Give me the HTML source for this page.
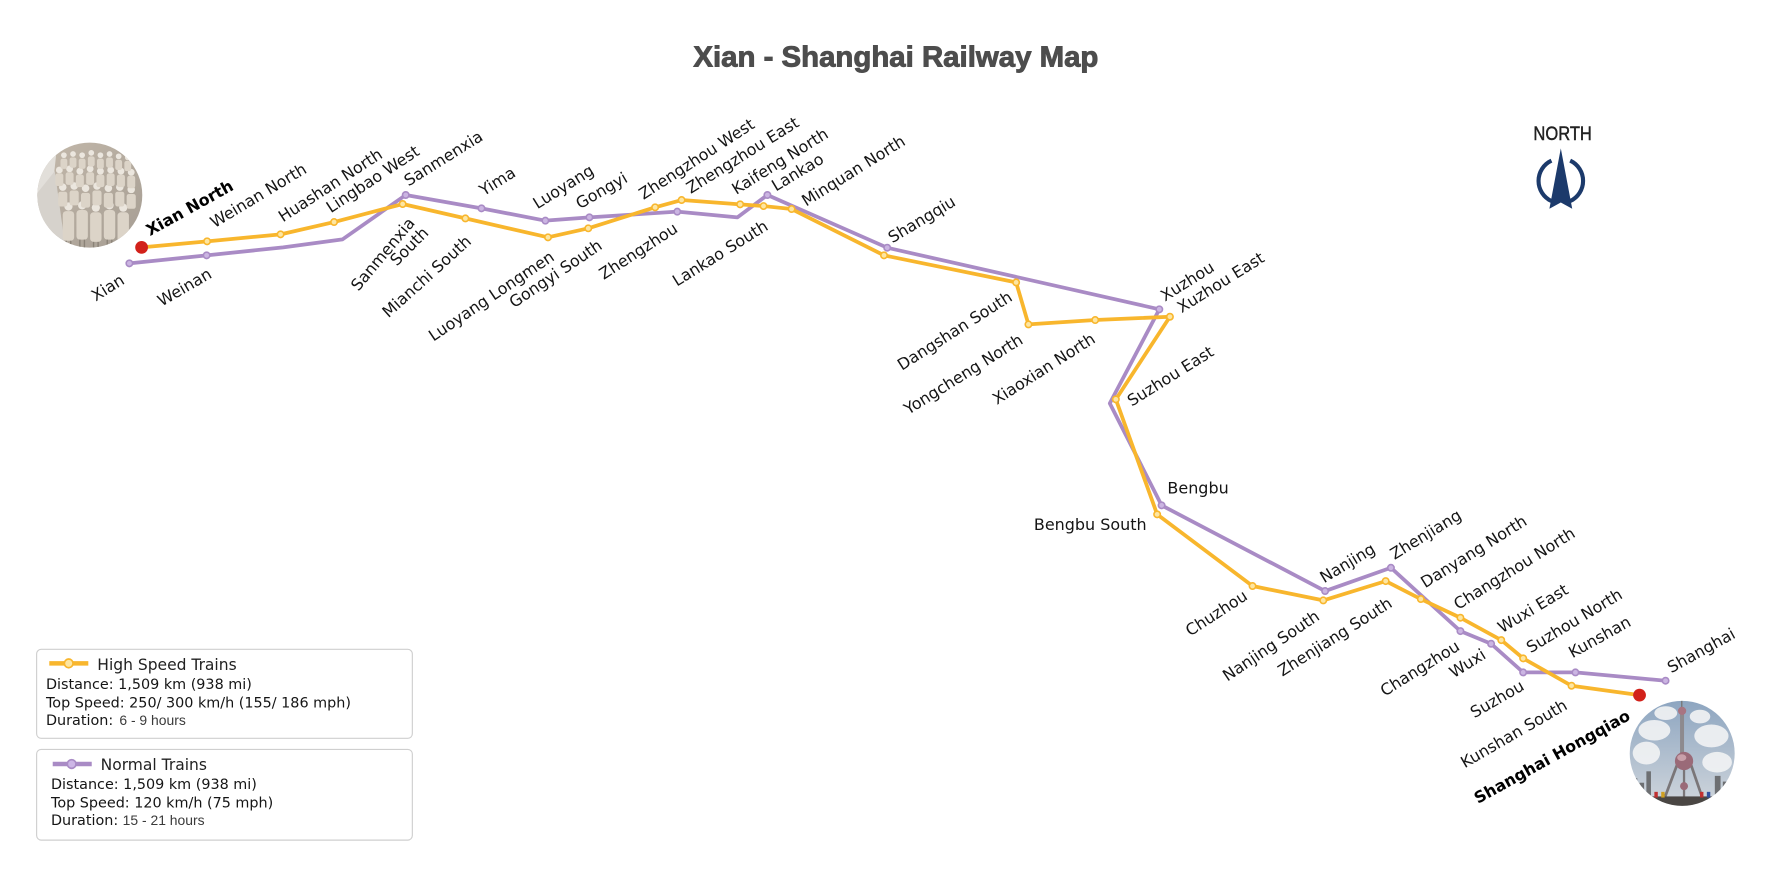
<!DOCTYPE html>
<html><head><meta charset="utf-8"><style>
html,body{margin:0;padding:0;background:#fff;}
svg{display:block;}
.l{font-family:"DejaVu Sans","Liberation Sans",sans-serif;font-size:14px;fill:#151515;}
.b{font-family:"DejaVu Sans","Liberation Sans",sans-serif;font-size:14px;font-weight:bold;fill:#000;}
.lg{font-family:"DejaVu Sans","Liberation Sans",sans-serif;font-size:12.6px;fill:#151515;}
.lt{font-family:"DejaVu Sans","Liberation Sans",sans-serif;font-size:13.6px;fill:#222;}
.ar{font-family:"Liberation Sans",Arial,sans-serif;font-size:12.2px;fill:#3a3a3a;}
</style></head><body>
<svg width="1789" height="878" viewBox="0 0 1568 769.5" preserveAspectRatio="none" xmlns="http://www.w3.org/2000/svg">
<defs>
<clipPath id="cx"><circle cx="78.7" cy="171" r="46"/></clipPath>
<clipPath id="cs"><circle cx="1474.4" cy="660.3" r="46"/></clipPath>
<linearGradient id="sky" x1="0" y1="0" x2="0" y2="1"><stop offset="0" stop-color="#8aa3bf"/><stop offset="1" stop-color="#d3d8dd"/></linearGradient>
<linearGradient id="ter" x1="0" y1="0" x2="1" y2="1"><stop offset="0" stop-color="#c4b9ab"/><stop offset="1" stop-color="#a49c92"/></linearGradient>
</defs>
<rect width="1568" height="769.5" fill="#fff"/>

<!-- title -->
<text x="607.7" y="58.4" font-family="Liberation Sans, Arial, sans-serif" font-weight="bold" font-size="25.5" fill="#4d4d4d" stroke="#4d4d4d" stroke-width="0.8" textLength="355" lengthAdjust="spacingAndGlyphs">Xian - Shanghai Railway Map</text>

<!-- north -->
<text x="1344" y="122.7" font-family="Liberation Sans, Arial, sans-serif" font-size="17" fill="#222" stroke="#222" stroke-width="0.4" textLength="51.2" lengthAdjust="spacingAndGlyphs">NORTH</text>
<path d="M1376.2,140.8 A19.5,19.5 0 0 1 1376.2,176.2" fill="none" stroke="#1c3a6b" stroke-width="3.6"/>
<path d="M1359.8,176.2 A19.5,19.5 0 0 1 1359.8,140.8" fill="none" stroke="#1c3a6b" stroke-width="3.6"/>
<polygon points="1368,130 1378,183 1368,177.5 1358,183" fill="#1c3a6b"/>

<!-- Xian image -->
<g clip-path="url(#cx)">
<rect x="30" y="122" width="100" height="100" fill="url(#ter)"/>
<polygon points="30,150 50,128 40,222 30,222" fill="#e2dfda"/>
<polygon points="32,170 48,150 58,222 32,222" fill="#d6d2cc"/>
<g fill="#ebe6de">
<circle cx="56" cy="136" r="2.5"/><circle cx="64" cy="135" r="2.5"/><circle cx="72" cy="136" r="2.5"/><circle cx="80" cy="134" r="2.5"/><circle cx="88" cy="136" r="2.5"/><circle cx="96" cy="135" r="2.5"/><circle cx="104" cy="137" r="2.5"/><circle cx="112" cy="138" r="2.5"/>
<circle cx="52" cy="149" r="3"/><circle cx="61" cy="148" r="3"/><circle cx="70" cy="150" r="3"/><circle cx="79" cy="148" r="3"/><circle cx="88" cy="150" r="3"/><circle cx="97" cy="149" r="3"/><circle cx="106" cy="150" r="3"/><circle cx="115" cy="151" r="3"/>
<circle cx="55" cy="164" r="3.3"/><circle cx="65" cy="163" r="3.3"/><circle cx="75" cy="165" r="3.3"/><circle cx="85" cy="163" r="3.3"/><circle cx="95" cy="165" r="3.3"/><circle cx="105" cy="164" r="3.3"/><circle cx="115" cy="166" r="3.3"/>
<circle cx="60" cy="181" r="3.6"/><circle cx="72" cy="180" r="3.6"/><circle cx="84" cy="182" r="3.6"/><circle cx="96" cy="180" r="3.6"/><circle cx="108" cy="182" r="3.6"/>
</g>
<g fill="#dcd4c8">
<rect x="53" y="139" width="6" height="9" rx="2"/><rect x="61" y="138" width="6" height="9" rx="2"/><rect x="69" y="139" width="6" height="9" rx="2"/><rect x="77" y="137" width="6" height="9" rx="2"/><rect x="85" y="139" width="6" height="9" rx="2"/><rect x="93" y="138" width="6" height="9" rx="2"/><rect x="101" y="140" width="6" height="9" rx="2"/><rect x="109" y="141" width="6" height="9" rx="2"/>
<rect x="48.5" y="152" width="7" height="11" rx="2"/><rect x="57.5" y="151" width="7" height="11" rx="2"/><rect x="66.5" y="153" width="7" height="11" rx="2"/><rect x="75.5" y="151" width="7" height="11" rx="2"/><rect x="84.5" y="153" width="7" height="11" rx="2"/><rect x="93.5" y="152" width="7" height="11" rx="2"/><rect x="102.5" y="153" width="7" height="11" rx="2"/><rect x="111.5" y="154" width="7" height="11" rx="2"/>
<rect x="51" y="168" width="8" height="13" rx="2"/><rect x="61" y="167" width="8" height="13" rx="2"/><rect x="71" y="169" width="8" height="13" rx="2"/><rect x="81" y="167" width="8" height="13" rx="2"/><rect x="91" y="169" width="8" height="13" rx="2"/><rect x="101" y="168" width="8" height="13" rx="2"/><rect x="111" y="170" width="8" height="13" rx="2"/>
<rect x="55" y="185" width="10" height="26" rx="3"/><rect x="67" y="184" width="10" height="26" rx="3"/><rect x="79" y="186" width="10" height="26" rx="3"/><rect x="91" y="184" width="10" height="26" rx="3"/><rect x="103" y="186" width="10" height="26" rx="3"/>
</g>
<g stroke="#8a8277" stroke-width="1.2">
<line x1="58" y1="211" x2="58" y2="220"/><line x1="62" y1="211" x2="62" y2="220"/><line x1="70" y1="210" x2="70" y2="220"/><line x1="74" y1="210" x2="74" y2="220"/><line x1="82" y1="212" x2="82" y2="221"/><line x1="86" y1="212" x2="86" y2="221"/><line x1="94" y1="210" x2="94" y2="220"/><line x1="98" y1="210" x2="98" y2="220"/>
</g>
</g>

<!-- Shanghai image -->
<g clip-path="url(#cs)">
<rect x="1425" y="610" width="100" height="100" fill="url(#sky)"/>
<g fill="#f2f3f4" opacity="0.9">
<ellipse cx="1450" cy="640" rx="14" ry="9"/><ellipse cx="1443" cy="660" rx="12" ry="10"/><ellipse cx="1500" cy="645" rx="15" ry="10"/><ellipse cx="1505" cy="668" rx="13" ry="9"/><ellipse cx="1460" cy="625" rx="10" ry="6"/><ellipse cx="1490" cy="628" rx="9" ry="6"/>
</g>
<g fill="#6d6f72">
<rect x="1430" y="682" width="5" height="20"/><rect x="1437" y="686" width="4" height="16"/><rect x="1443" y="676" width="4" height="26"/><rect x="1503" y="680" width="5" height="22"/><rect x="1510" y="685" width="6" height="17"/>
</g>
<line x1="1474" y1="610" x2="1474" y2="620" stroke="#777" stroke-width="1.2"/>
<rect x="1472.5" y="620" width="3.5" height="42" fill="#8d8a8e"/>
<circle cx="1474.3" cy="623" r="3.6" fill="#a87582"/>
<line x1="1470" y1="670" x2="1458" y2="702" stroke="#7a7678" stroke-width="2.4"/>
<line x1="1482" y1="670" x2="1493" y2="702" stroke="#7a7678" stroke-width="2.4"/>
<line x1="1476" y1="670" x2="1476" y2="702" stroke="#7a7678" stroke-width="2"/>
<circle cx="1476" cy="667" r="8" fill="#9a6a78"/>
<ellipse cx="1474" cy="664" rx="4" ry="3" fill="#c9a0aa"/>
<circle cx="1476" cy="689" r="3.5" fill="#9a6a78"/>
<rect x="1425" y="698" width="100" height="12" fill="#4a4643"/>
<rect x="1450" y="694" width="3" height="5" fill="#c03030"/><rect x="1456" y="694" width="3" height="5" fill="#d0a020"/><rect x="1496" y="694" width="3" height="5" fill="#3050a0"/><rect x="1490" y="694" width="3" height="5" fill="#c03030"/>
</g>

<!-- purple line -->
<polyline fill="none" stroke="#a98bc5" stroke-width="3.3" stroke-linejoin="round" points="113.4,230.8 181.1,223.8 248.2,216.8 300.2,209.8 355.6,170.9 422,182.6 478,193.4 516.6,190.5 593.6,185.5 646.3,190.5 672.6,170.9 777.6,217.1 1016.1,271.1 972.7,353.5 1018.1,442.9 1161.4,518 1219.1,497.6 1280,553.1 1306.9,564.2 1335,589.3 1380.8,589.3 1459.8,596.6"/>
<g fill="#cbb5e2" stroke="#a98bc5" stroke-width="1.4">
<circle cx="113.4" cy="230.8" r="2.8"/><circle cx="181.1" cy="223.8" r="2.8"/><circle cx="355.6" cy="170.9" r="2.8"/><circle cx="422" cy="182.6" r="2.8"/><circle cx="478" cy="193.4" r="2.8"/><circle cx="516.6" cy="190.5" r="2.8"/><circle cx="593.6" cy="185.5" r="2.8"/><circle cx="672.6" cy="170.9" r="2.8"/><circle cx="777.6" cy="217.1" r="2.8"/><circle cx="1016.1" cy="271.1" r="2.8"/><circle cx="1018.1" cy="442.9" r="2.8"/><circle cx="1161.4" cy="518" r="2.8"/><circle cx="1219.1" cy="497.6" r="2.8"/><circle cx="1280" cy="553.1" r="2.8"/><circle cx="1306.9" cy="564.2" r="2.8"/><circle cx="1335" cy="589.3" r="2.8"/><circle cx="1380.8" cy="589.3" r="2.8"/><circle cx="1459.8" cy="596.6" r="2.8"/>
</g>

<!-- yellow line -->
<polyline fill="none" stroke="#f8b62d" stroke-width="3.3" stroke-linejoin="round" points="124.1,216.8 181.5,211.5 245.9,205.4 292.8,194.6 352.9,178.8 407.9,191.4 480.3,208 515.6,200.1 574.2,181.7 597.4,175.3 648.7,179.1 669.2,180.6 693.8,183.2 774.8,223.8 890.6,247.5 901.4,284.3 959.9,280.5 1025.4,277.6 978,350 1014.2,450.8 1097.8,513.6 1159.8,526.2 1214.5,509.3 1245.3,525 1280,541.4 1315.8,561 1335,577 1377.4,601 1437,609.2"/>
<g fill="#fde6a2" stroke="#f8b62d" stroke-width="1.4">
<circle cx="181.5" cy="211.5" r="2.8"/><circle cx="245.9" cy="205.4" r="2.8"/><circle cx="292.8" cy="194.6" r="2.8"/><circle cx="352.9" cy="178.8" r="2.8"/><circle cx="407.9" cy="191.4" r="2.8"/><circle cx="480.3" cy="208" r="2.8"/><circle cx="515.6" cy="200.1" r="2.8"/><circle cx="574.2" cy="181.7" r="2.8"/><circle cx="597.4" cy="175.3" r="2.8"/><circle cx="648.7" cy="179.1" r="2.8"/><circle cx="669.2" cy="180.6" r="2.8"/><circle cx="693.8" cy="183.2" r="2.8"/><circle cx="774.8" cy="223.8" r="2.8"/><circle cx="890.6" cy="247.5" r="2.8"/><circle cx="901.4" cy="284.3" r="2.8"/><circle cx="959.9" cy="280.5" r="2.8"/><circle cx="1025.4" cy="277.6" r="2.8"/><circle cx="978" cy="350" r="2.8"/><circle cx="1014.2" cy="450.8" r="2.8"/><circle cx="1097.8" cy="513.6" r="2.8"/><circle cx="1159.8" cy="526.2" r="2.8"/><circle cx="1214.5" cy="509.3" r="2.8"/><circle cx="1245.3" cy="525" r="2.8"/><circle cx="1280" cy="541.4" r="2.8"/><circle cx="1315.8" cy="561" r="2.8"/><circle cx="1335" cy="577" r="2.8"/><circle cx="1377.4" cy="601" r="2.8"/>
</g>
<circle cx="124.1" cy="216.8" r="5.6" fill="#d2211a"/>
<circle cx="1437" cy="609.2" r="5.6" fill="#d2211a"/>

<!-- labels above (start anchored) -->
<text class="b" x="131.5" y="207" transform="rotate(-29 131.5 207)">Xian North</text>
<text class="l" x="188" y="200" transform="rotate(-31 188 200)">Weinan North</text>
<text class="l" x="248" y="195" transform="rotate(-33 248 195)">Huashan North</text>
<text class="l" x="290" y="187" transform="rotate(-33.5 290 187)">Lingbao West</text>
<text class="l" x="358" y="163.6" transform="rotate(-32 358 163.6)">Sanmenxia</text>
<text class="l" x="424" y="172" transform="rotate(-32 424 172)">Yima</text>
<text class="l" x="471" y="183.5" transform="rotate(-32 471 183.5)">Luoyang</text>
<text class="l" x="508.3" y="183.5" transform="rotate(-30 508.3 183.5)">Gongyi</text>
<text class="l" x="564" y="175.3" transform="rotate(-33 564 175.3)">Zhengzhou West</text>
<text class="l" x="605.4" y="170" transform="rotate(-32 605.4 170)">Zhengzhou East</text>
<text class="l" x="645.3" y="170.9" transform="rotate(-32 645.3 170.9)">Kaifeng North</text>
<text class="l" x="680" y="168" transform="rotate(-31 680 168)">Lankao</text>
<text class="l" x="706.6" y="181.2" transform="rotate(-32 706.6 181.2)">Minquan North</text>
<text class="l" x="782.2" y="213.3" transform="rotate(-31 782.2 213.3)">Shangqiu</text>
<text class="l" x="1021.1" y="264.4" transform="rotate(-32 1021.1 264.4)">Xuzhou</text>
<text class="l" x="1035.7" y="274.6" transform="rotate(-32 1035.7 274.6)">Xuzhou East</text>
<text class="l" x="991.9" y="356.5" transform="rotate(-32 991.9 356.5)">Suzhou East</text>
<text class="l" x="1160.6" y="511.3" transform="rotate(-31 1160.6 511.3)">Nanjing</text>
<text class="l" x="1222.2" y="490.8" transform="rotate(-31.5 1222.2 490.8)">Zhenjiang</text>
<text class="l" x="1249.1" y="515.7" transform="rotate(-32 1249.1 515.7)">Danyang North</text>
<text class="l" x="1278" y="534.7" transform="rotate(-32 1278 534.7)">Changzhou North</text>
<text class="l" x="1316.5" y="555.1" transform="rotate(-31 1316.5 555.1)">Wuxi East</text>
<text class="l" x="1341.6" y="572.6" transform="rotate(-31 1341.6 572.6)">Suzhou North</text>
<text class="l" x="1378.2" y="577" transform="rotate(-29 1378.2 577)">Kunshan</text>
<text class="l" x="1464.8" y="590.2" transform="rotate(-29 1464.8 590.2)">Shanghai</text>

<!-- labels below -->
<text class="l" x="83.9" y="264.4" transform="rotate(-32 83.9 264.4)">Xian</text>
<text class="l" x="141.7" y="268.8" transform="rotate(-30 141.7 268.8)">Weinan</text>
<text class="l" x="314.1" y="255.7" transform="rotate(-50 314.1 255.7)">Sanmenxia</text>
<text class="l" x="347.7" y="233.7" transform="rotate(-45 347.7 233.7)">South</text>
<text class="l" x="340.4" y="279" transform="rotate(-42 340.4 279)">Mianchi South</text>
<text class="l" x="379.8" y="299.5" transform="rotate(-34 379.8 299.5)">Luoyang Longmen</text>
<text class="l" x="450.5" y="270.3" transform="rotate(-34 450.5 270.3)">Gongyi South</text>
<text class="l" x="529.2" y="245.4" transform="rotate(-33 529.2 245.4)">Zhengzhou</text>
<text class="l" x="593.3" y="251.3" transform="rotate(-32 593.3 251.3)">Lankao South</text>
<text class="l" x="790.5" y="325" transform="rotate(-32.5 790.5 325)">Dangshan South</text>
<text class="l" x="796.2" y="363.7" transform="rotate(-32 796.2 363.7)">Yongcheng North</text>
<text class="l" x="873.8" y="355" transform="rotate(-32.5 873.8 355)">Xiaoxian North</text>
<text class="l" x="1043.1" y="558" transform="rotate(-33 1043.1 558)">Chuzhou</text>
<text class="l" x="1075.8" y="597.5" transform="rotate(-34 1075.8 597.5)">Nanjing South</text>
<text class="l" x="1124" y="593.1" transform="rotate(-32.5 1124 593.1)">Zhenjiang South</text>
<text class="l" x="1213.7" y="610.6" transform="rotate(-32 1213.7 610.6)">Changzhou</text>
<text class="l" x="1274.2" y="594.5" transform="rotate(-32 1274.2 594.5)">Wuxi</text>
<text class="l" x="1292.3" y="629.6" transform="rotate(-30 1292.3 629.6)">Suzhou</text>
<text class="l" x="1283.8" y="673.4" transform="rotate(-30 1283.8 673.4)">Kunshan South</text>
<text class="b" x="1295.4" y="704.7" transform="rotate(-29 1295.4 704.7)">Shanghai Hongqiao</text>

<text class="l" x="1023.2" y="432.4">Bengbu</text>
<text class="l" x="1005" y="464.5" text-anchor="end">Bengbu South</text>

<!-- legend -->
<rect x="32.1" y="569.1" width="329.3" height="78" rx="4" fill="#fff" stroke="#cfcfcf" stroke-width="1"/>
<line x1="43.2" y1="581.4" x2="77.4" y2="581.4" stroke="#f8b62d" stroke-width="4"/>
<circle cx="60.2" cy="581.4" r="3.8" fill="#fde6a2" stroke="#f8b62d" stroke-width="1.5"/>
<text class="lt" x="85.3" y="587.3">High Speed Trains</text>
<text class="lg" x="40.3" y="603.9">Distance: 1,509 km (938 mi)</text>
<text class="lg" x="40.3" y="620">Top Speed: 250/ 300 km/h (155/ 186 mph)</text>
<text class="lg" x="40.3" y="635.5">Duration:</text>
<text class="ar" x="104.6" y="635.5">6 - 9 hours</text>

<rect x="32.1" y="656.8" width="329.3" height="79.5" rx="4" fill="#fff" stroke="#cfcfcf" stroke-width="1"/>
<line x1="46.2" y1="669.6" x2="80.4" y2="669.6" stroke="#a98bc5" stroke-width="4"/>
<circle cx="62.8" cy="669.6" r="3.8" fill="#cdb6e6" stroke="#a98bc5" stroke-width="1.5"/>
<text class="lt" x="88.2" y="674.9">Normal Trains</text>
<text class="lg" x="44.7" y="691.6">Distance: 1,509 km (938 mi)</text>
<text class="lg" x="44.7" y="707.6">Top Speed: 120 km/h (75 mph)</text>
<text class="lg" x="44.7" y="723.1">Duration:</text>
<text class="ar" x="107.5" y="723.1">15 - 21 hours</text>
</svg>
</body></html>
